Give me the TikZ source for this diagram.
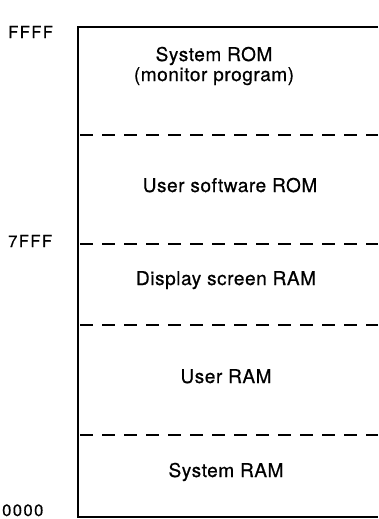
\documentclass[tikz,border=0pt]{standalone}
\usepackage{fontspec}
\setmainfont{TeX Gyre Heros}
\newfontfamily\mapfont[LetterSpace=3,FakeBold=0.6]{TeX Gyre Heros}
\newfontfamily\addrfont[LetterSpace=9,FakeBold=0.6]{TeX Gyre Heros}
\begin{document}
\begin{tikzpicture}[x=1pt,y=-1pt,
    region/.style={font=\mapfont\fontsize{19}{20}\selectfont,align=center,inner sep=0pt},
    addr/.style={font=\addrfont\fontsize{16.5}{18}\selectfont,anchor=base west,inner sep=0pt},
    boundary/.style={dash pattern=on 13pt off 9pt,line width=1.4pt}]
    \useasboundingbox (0,0) rectangle (378,519);

    % --- Frame (open on the right) ---
    \draw[line width=1.7pt] (378,27) -- (78,27) -- (78,517) -- (378,517);

    % --- Region boundaries ---
    \foreach \y in {135,244,325,435} {
      \draw[boundary] (80,\y) -- (378,\y);
    }

    % --- Address labels ---
    \node[addr] (ffff) at (8,38) {FFFF};
    \node[addr] (sevenfff) at (8,247) {7FFF};
    \node[addr] (zero) at (2,516) {0000};

    % --- Regions ---
    \node[region] (sysrom) at (214,66) {System ROM\\(monitor program)};
    \node[region,anchor=base] (userrom) at (230,192) {User software ROM};
    \node[region,anchor=base] (display) at (226,285) {Display screen RAM};
    \node[region,anchor=base] (userram) at (226,383) {User RAM};
    \node[region,anchor=base] (sysram) at (226,477) {System RAM};
\end{tikzpicture}
\end{document}
